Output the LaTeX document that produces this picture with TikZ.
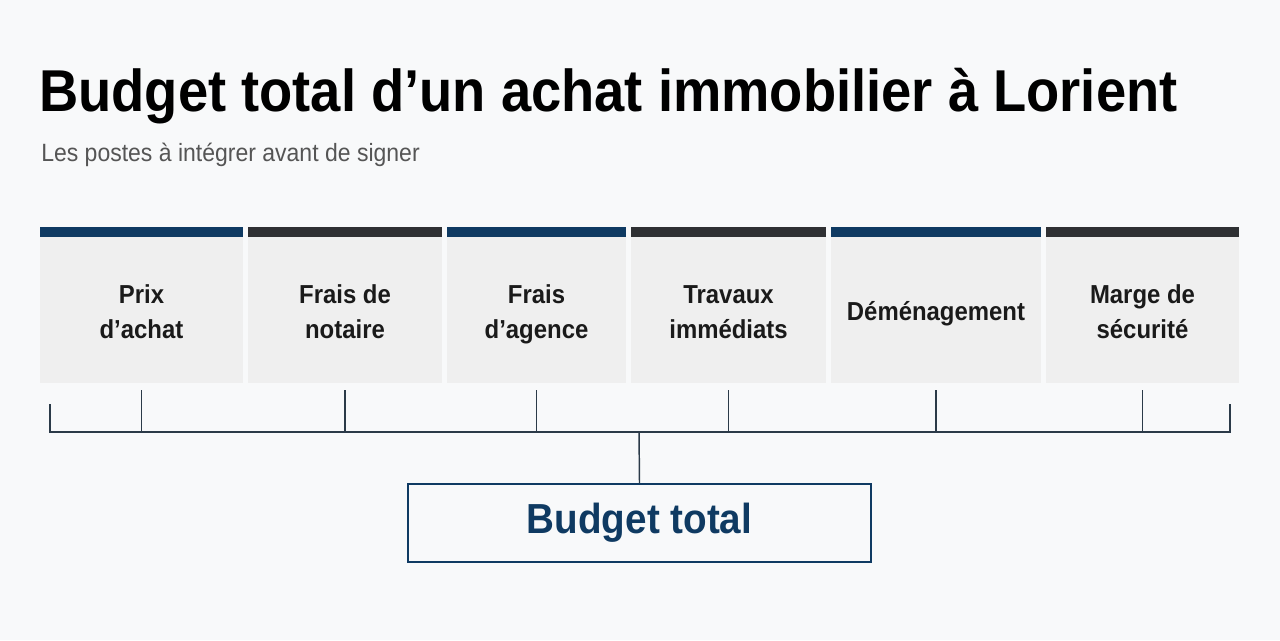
\documentclass[tikz,border=0pt]{standalone}
\usepackage{fontspec}
\setmainfont{Liberation Sans}[FakeStretch=0.92]
\usepackage{tikz}
\usetikzlibrary{positioning}

\definecolor{pagebg}{HTML}{F8F9FA}
\definecolor{navy}{HTML}{0F3A62}
\definecolor{charcoal}{HTML}{2F3033}
\definecolor{cellgray}{HTML}{EFEFEF}
\definecolor{inkdark}{HTML}{1A1A1A}
\definecolor{subgray}{HTML}{555555}
\definecolor{wire}{HTML}{2B3A48}

\begin{document}
\begin{tikzpicture}[x=0.75pt,y=-0.75pt]
\tikzset{cell/.style = {fill=cellgray,inner sep=0pt,minimum height=109.5pt,
    text=inkdark,font=\fontsize{19.5}{26.25}\selectfont\bfseries,align=center},
  wire/.style = {draw=wire,line width=1.1pt}}

\fill[pagebg] (0,0) rectangle (1280,640);

\node[anchor=base west,text=black,inner sep=0pt,font=\fontsize{44.3}{50}\selectfont\bfseries]
  (title) at (39,111) {Budget total d’un achat immobilier à Lorient};
\node[anchor=base west,text=subgray,inner sep=0pt,font=\fontsize{18.75}{22}\selectfont]
  (subtitle) at (41,161) {Les postes à intégrer avant de signer};

\coordinate (hub) at (639,432);

\foreach \n/\l/\r/\c/\t in {1/40/243/navy/Prix\\d’achat,
    2/248/442/charcoal/Frais de\\notaire,
    3/447/626/navy/Frais\\d’agence,
    4/631/826/charcoal/Travaux\\immédiats,
    5/831/1041/navy/Déménagement,
    6/1046/1239/charcoal/Marge de\\sécurité}
{
  \fill[\c] (\l,227) rectangle (\r,237);
  \fill[cellgray] (\l,237) rectangle (\r,383);
  \node[cell,fill=none,minimum height=0pt] (post\n) at ({(\l+\r)/2},313.5) {\strut\t\strut};
  \coordinate (foot\n) at ({(\l+\r)/2},390);
  \draw[wire] (foot\n) -- (foot\n |- hub);
}

\coordinate (endL) at (50,404);
\coordinate (endR) at (1230,404);
\draw[wire] (endL) -- (endL |- hub) -- (endR |- hub) -- (endR);

\node[draw=navy,line width=1.5pt,fill=pagebg,minimum width=347pt,minimum height=58.5pt,
  text=navy,font=\fontsize{31.5}{36}\selectfont\bfseries] (total) at (639.5,523) {Budget total};
\draw[wire] (hub) -- (total.north);

\end{tikzpicture}
\end{document}
